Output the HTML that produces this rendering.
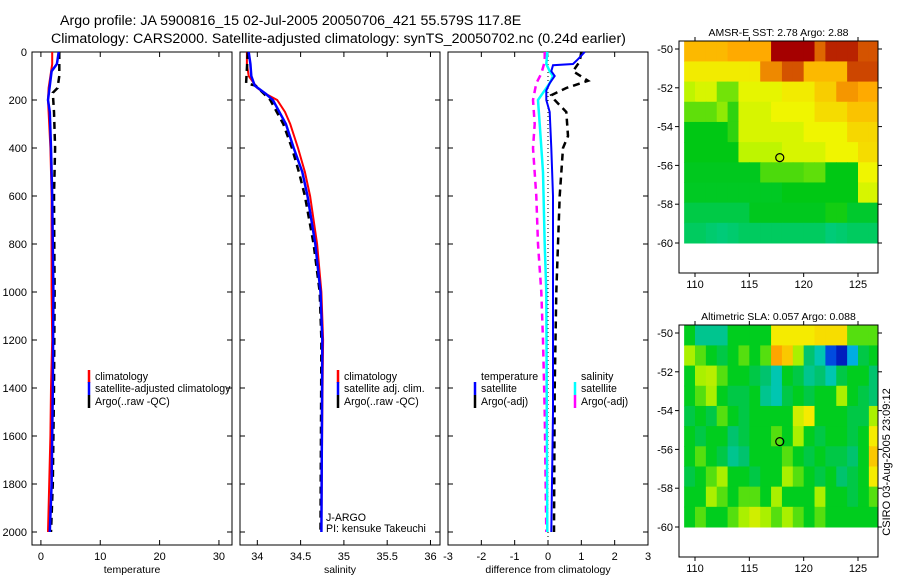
<!DOCTYPE html>
<html><head><meta charset="utf-8"><style>
html,body{margin:0;padding:0;background:#fff;}
svg{display:block;font-family:"Liberation Sans",sans-serif;}
</style></head><body>
<svg id="fig" width="900" height="580" viewBox="0 0 900 580" xmlns="http://www.w3.org/2000/svg">
<text x="60" y="25" font-size="14.2">Argo profile: JA 5900816_15 02-Jul-2005 20050706_421 55.579S 117.8E</text>
<text x="51" y="43" font-size="14.2">Climatology: CARS2000. Satellite-adjusted climatology: synTS_20050702.nc (0.24d earlier)</text>
</svg>
<script>
// ---------- data ----------
const depthTicks=[0,200,400,600,800,1000,1200,1400,1600,1800,2000];
const tempTicks=[0,10,20,30];
const salTicks=[34,34.5,35,35.5,36];
const salTickLabels=["34","34.5","35","35.5","36"];
const diffTicks=[-3,-2,-1,0,1,2,3];
const tClimD=[0,50,100,150,200,300,400,600,800,1000,1200,1400,1600,1800,2000];
const tClimV=[1.9,1.9,1.6,1.3,1.2,1.4,1.6,1.8,1.8,1.8,1.9,1.7,1.6,1.4,1.2];
const tSatD=[0,50,80,120,200,250,400,600,1000,1400,1600,1800,2000];
const tSatV=[3.0,2.7,1.8,1.6,1.2,1.5,1.7,1.9,2.1,2.0,1.9,1.8,1.5];
const tArgoD=[0,100,150,170,250,400,600,1000,1400,1800,2000];
const tArgoV=[3.1,3.1,2.8,2.0,2.2,2.4,2.2,2.3,2.2,2.0,1.7];
const sClimD=[0,50,100,150,175,200,250,300,400,500,600,800,1000,1200,1500,2000];
const sClimV=[33.88,33.88,33.9,34.0,34.1,34.23,34.32,34.38,34.47,34.55,34.61,34.69,34.74,34.76,34.75,34.74];
const sSatD=[0,50,100,140,175,200,300,400,500,600,800,1000,1200,2000];
const sSatV=[33.9,33.92,33.93,33.97,34.1,34.18,34.33,34.42,34.52,34.58,34.67,34.73,34.75,34.74];
const sArgoD=[0,130,140,200,300,400,500,600,800,1000,1200,2000];
const sArgoV=[33.89,33.87,33.98,34.15,34.3,34.4,34.48,34.55,34.65,34.72,34.74,34.73];
const dTSatD=[0,30,50,55,80,100,130,160,200,250,400,600,1000,1500,2000];
const dTSatV=[1.1,0.9,0.75,0.15,0.1,0.2,0.05,-0.05,-0.05,0.05,0.1,0.15,0.15,0.15,0.1];
const dTArgoD=[0,40,80,120,150,180,200,250,350,400,600,800,1000,1400,2000];
const dTArgoV=[1.0,0.95,0.75,1.2,0.55,0.1,0.2,0.55,0.6,0.45,0.35,0.3,0.25,0.2,0.18];
const dSSatD=[0,50,80,100,130,170,200,300,500,800,1000,2000];
const dSSatV=[-0.02,-0.05,0.05,0.15,0.05,-0.15,-0.3,-0.25,-0.15,-0.1,-0.05,-0.02];
const dSArgoD=[0,40,90,130,200,300,400,600,800,1000,1200,1500,2000];
const dSArgoV=[-0.1,-0.1,-0.2,-0.35,-0.45,-0.4,-0.45,-0.35,-0.3,-0.2,-0.15,-0.1,-0.05];
const lonTicks=[110,115,120,125];
const latTicks=[-50,-52,-54,-56,-58,-60];
const sstGrid=[
[.72,.72,.72,.72,.75,.75,.75,.75,1,1,1,1,.85,.95,.95,.95,.88,.88],
[.62,.62,.62,.62,.62,.62,.62,.8,.8,.88,.88,.72,.72,.72,.72,.9,.9,.9],
[.5,.55,.55,.42,.42,.58,.58,.58,.58,.62,.62,.62,.68,.68,.78,.78,.75,.75],
[.4,.4,.4,.45,.35,.55,.55,.55,.6,.6,.6,.6,.65,.65,.65,.7,.7,.7],
[.3,.3,.3,.3,.35,.55,.55,.55,.55,.55,.55,.6,.6,.6,.6,.66,.66,.66],
[.3,.3,.3,.3,.3,.5,.5,.5,.5,.55,.55,.55,.55,.6,.6,.6,.65,.65],
[.28,.28,.28,.28,.28,.28,.28,.38,.38,.38,.38,.4,.4,.3,.3,.3,.6,.6],
[.27,.27,.27,.27,.27,.27,.27,.27,.27,.3,.3,.3,.3,.3,.3,.3,.55,.55],
[.2,.2,.2,.2,.2,.2,.28,.28,.28,.28,.28,.28,.28,.32,.32,.25,.25,.25],
[.15,.15,.12,.1,.12,.15,.15,.15,.15,.15,.15,.15,.15,.1,.12,.15,.15,.15]];
const slaGrid=[
[.5,.35,.35,.35,.5,.5,.5,.5,.7,.7,.7,.7,.72,.72,.72,.55,.55,.55],
[.6,.55,.5,.45,.5,.55,.5,.55,.8,.75,.6,.4,.3,.05,0,.2,.45,.5],
[.5,.6,.62,.55,.5,.5,.45,.4,.3,.5,.45,.35,.4,.3,.45,.5,.5,.4],
[.5,.55,.6,.5,.45,.45,.5,.35,.3,.45,.5,.45,.5,.5,.6,.5,.45,.4],
[.45,.5,.45,.55,.5,.45,.5,.5,.5,.5,.65,.7,.5,.5,.5,.45,.45,.6],
[.5,.45,.5,.5,.4,.45,.5,.5,.55,.5,.6,.5,.45,.5,.5,.45,.5,.7],
[.5,.55,.5,.45,.35,.4,.5,.5,.5,.55,.5,.45,.5,.45,.45,.4,.5,.75],
[.45,.5,.55,.6,.5,.5,.45,.5,.5,.6,.55,.5,.45,.5,.4,.45,.5,.7],
[.5,.5,.6,.55,.5,.55,.55,.5,.6,.5,.5,.5,.6,.5,.5,.45,.5,.55],
[.5,.55,.5,.5,.55,.6,.65,.6,.55,.6,.55,.5,.55,.5,.5,.5,.5,.5]];
const floatLon=117.8, floatLat=-55.6;

// ---------- helpers ----------
const NS="http://www.w3.org/2000/svg";
const fig=document.getElementById('fig');
function mk(tag,attrs,parent){const e=document.createElementNS(NS,tag);for(const k in attrs)e.setAttribute(k,attrs[k]);(parent||fig).appendChild(e);return e;}
const Y0=52,Y1=545;
function yD(d){return Y0+d*0.24;}
function lin(d0,d1,r0,r1){return v=>r0+(v-d0)/(d1-d0)*(r1-r0);}

function panel(name,x0,x1,xs,ticks,labels,title,leftLabels){
  const g=mk('g',{});
  
  
  const fr=mk('rect',{x:x0,y:Y0,width:x1-x0,height:Y1-Y0,fill:'none',stroke:'#000','stroke-width':1},g);
  
  
  depthTicks.forEach(d=>{
    const y=yD(d);
    mk('line',{x1:x0,x2:x0+5,y1:y,y2:y,stroke:'#000'},g);
    mk('line',{x1:x1-5,x2:x1,y1:y,y2:y,stroke:'#000'},g);
    if(leftLabels){const t=mk('text',{x:x0-5,y:y+4,'font-size':11,'text-anchor':'end'},g);t.textContent=d;
      
      }
  });
  ticks.forEach((v,i)=>{
    const x=xs(v);
    mk('line',{x1:x,x2:x,y1:Y0,y2:Y0+5,stroke:'#000'},g);
    mk('line',{x1:x,x2:x,y1:Y1-5,y2:Y1,stroke:'#000'},g);
    const t=mk('text',{x:x,y:560,'font-size':11,'text-anchor':'middle'},g);t.textContent=labels[i];
    
    
  });
  const tt=mk('text',{x:(x0+x1)/2,y:573,'font-size':10.5,'text-anchor':'middle'},g);tt.textContent=title;
  
  
  return g;
}
function line(g,D,V,xs,color,dash,w,name){
  let p='';D.forEach((d,i)=>{p+=(i?'L':'M')+xs(V[i]).toFixed(1)+','+yD(d).toFixed(1);});
  const e=mk('path',{d:p,fill:'none',stroke:color,'stroke-width':w||2,'stroke-dasharray':dash||'none'},g);
  
  
}
function legend(g,x,y,color,label,name){
  if(color){const s=mk('line',{x1:x,x2:x,y1:y-10,y2:y+3,stroke:color,'stroke-width':2.5},g);
    
    }
  const t=mk('text',{x:x+6,y:y,'font-size':10.6},g);t.textContent=label;
  
  
}

// ---------- temperature ----------
const xT=lin(-1.5,32.2,32,232);
const gT=panel('temperature-panel',32,232,xT,tempTicks,tempTicks.map(String),'temperature',true);
line(gT,tClimD,tClimV,xT,'#f00',null,2,'temp-climatology-line');
line(gT,tArgoD,tArgoV,xT,'#000','7,5',2.5,'temp-argo-line');
line(gT,tSatD,tSatV,xT,'#00f',null,2.5,'temp-satellite-line');
legend(gT,89,380,'#f00','climatology','legend-climatology');
legend(gT,89,392,'#00f','satellite-adjusted climatology','legend-satellite-adjusted');
legend(gT,89,405,'#000','Argo(..raw -QC)','legend-argo');

// ---------- salinity ----------
const xS=lin(33.8,36.11,240,440);
const gS=panel('salinity-panel',240,440,xS,salTicks,salTickLabels,'salinity',false);
line(gS,sClimD,sClimV,xS,'#f00',null,2,'sal-climatology-line');
line(gS,sArgoD,sArgoV,xS,'#000','7,5',2.5,'sal-argo-line');
line(gS,sSatD,sSatV,xS,'#00f',null,2.5,'sal-satellite-line');
legend(gS,338,380,'#f00','climatology','legend-sal-climatology');
legend(gS,338,392,'#00f','satellite adj. clim.','legend-sal-satellite');
legend(gS,338,405,'#000','Argo(..raw -QC)','legend-sal-argo');
legend(gS,320,521,null,'J-ARGO','label-j-argo');
legend(gS,320,532,null,'PI: kensuke Takeuchi','label-pi');

// ---------- difference ----------
const xDf=lin(-3,3,448,648);
const gD=panel('difference-panel',448,648,xDf,diffTicks,diffTicks.map(String),'difference from climatology',false);
const zl=mk('line',{x1:xDf(0),x2:xDf(0),y1:Y0,y2:Y1,stroke:'#000','stroke-dasharray':'1,3'},gD);


line(gD,dSArgoD,dSArgoV,xDf,'#f0f','7,5',2.5,'diff-sal-argo-line');
line(gD,dTArgoD,dTArgoV,xDf,'#000','7,5',2.5,'diff-temp-argo-line');
line(gD,dSSatD,dSSatV,xDf,'#0ff',null,2.5,'diff-sal-satellite-line');
line(gD,dTSatD,dTSatV,xDf,'#00f',null,2,'diff-temp-satellite-line');
legend(gD,475,380,null,'temperature','legend-temperature-header');
legend(gD,475,392,'#00f','satellite','legend-temp-satellite');
legend(gD,475,405,'#000','Argo(-adj)','legend-temp-argo');
legend(gD,575,380,null,'salinity','legend-salinity-header');
legend(gD,575,392,'#0ff','satellite','legend-sal-satellite-diff');
legend(gD,575,405,'#f0f','Argo(-adj)','legend-sal-argo-diff');

// ---------- maps ----------
function sstColor(v){
  const st=[[0,[0,205,170]],[.3,[0,200,20]],[.5,[190,245,0]],[.6,[240,245,0]],[.75,[255,170,0]],[.9,[205,70,0]],[1,[165,0,0]]];
  return cmap(st,v);}
function slaColor(v){
  const st=[[0,[0,30,190]],[.1,[0,120,255]],[.25,[0,200,210]],[.4,[0,195,110]],[.5,[0,205,30]],[.6,[170,240,0]],[.7,[245,235,0]],[.8,[255,165,0]]];
  return cmap(st,v);}
function cmap(st,v){
  for(let i=1;i<st.length;i++){if(v<=st[i][0]){const a=st[i-1],b=st[i],t=(v-a[0])/(b[0]-a[0]);
    return 'rgb('+a[1].map((c,k)=>Math.round(c+(b[1][k]-c)*t)).join(',')+')';}}
  return 'rgb('+st[st.length-1][1].join(',')+')';}
function map(name,top,bottom,latTop,lat60,grid,cfn,title){
  const x0=679,x1=878;
  const xL=lin(110,125,695,858), yL=lin(-50,-60,latTop,lat60);
  const g=mk('g',{});
  
  
  grid.forEach((row,r)=>row.forEach((v,c)=>{
    const lx=109+c, ly=-49.6-r*1.04;
    const xa=Math.max(x0,xL(lx)), xb=Math.min(x1,xL(lx+1)+0.5);
    const ya=r===0?top:yL(ly), yb=yL(ly-1.04)+0.5;
    const e=mk('rect',{x:xa,y:ya,width:xb-xa,height:yb-ya,fill:cfn(v)},g);
    
    
  }));
  const fr=mk('rect',{x:x0,y:top,width:x1-x0,height:bottom-top,fill:'none',stroke:'#000'},g);
  
  
  latTicks.forEach(l=>{const y=yL(l);
    mk('line',{x1:x0-4,x2:x0,y1:y,y2:y,stroke:'#000'},g);
    mk('line',{x1:x1,x2:x1+4,y1:y,y2:y,stroke:'#000'},g);
    const t=mk('text',{x:x0-6,y:y+4,'font-size':11,'text-anchor':'end'},g);t.textContent=l;
    
    });
  lonTicks.forEach(l=>{const x=xL(l);
    mk('line',{x1:x,x2:x,y1:top-4,y2:top,stroke:'#000'},g);
    mk('line',{x1:x,x2:x,y1:bottom,y2:bottom+4,stroke:'#000'},g);
    const t=mk('text',{x:x,y:bottom+15,'font-size':11,'text-anchor':'middle'},g);t.textContent=l;
    
    });
  const tt=mk('text',{x:(x0+x1)/2,y:top-5,'font-size':10.5,'text-anchor':'middle'},g);tt.textContent=title;
  
  
  const c=mk('circle',{cx:xL(floatLon),cy:yL(floatLat),r:4,fill:'none',stroke:'#000','stroke-width':1.2},g);
  
  
}
map('sst-map',41,273,49,243,sstGrid,sstColor,'AMSR-E SST: 2.78 Argo: 2.88');
map('sla-map',325,557,333,527,slaGrid,slaColor,'Altimetric SLA: 0.057 Argo: 0.088');
const cs=mk('text',{x:0,y:0,'font-size':11,'text-anchor':'middle',transform:'translate(890,462) rotate(-90)'});
cs.textContent='CSIRO 03-Aug-2005 23:09:12';


</script>
</body></html>
